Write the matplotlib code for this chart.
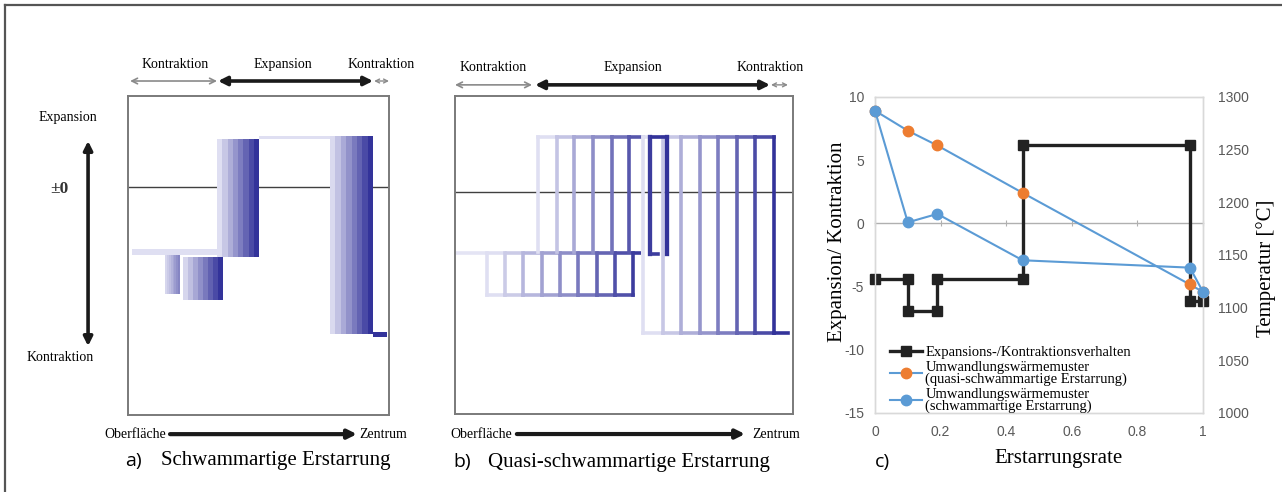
import numpy as np
import matplotlib
matplotlib.use('Agg')
import matplotlib.pyplot as plt
from matplotlib.colors import LinearSegmentedColormap
from matplotlib.lines import Line2D

plt.rcParams['axes.unicode_minus'] = False

SERIF = 'Liberation Serif'
SANS = 'Open Sans'

# ---- panel a: blocks (x0, x1, y_bottom, y_top), x = surface(0) .. centre(100)
a_blocks = [(1.5, 34.1, -7.45, -6.8),
            (14.2, 19.9, -11.7, -7.45),
            (21.1, 36.4, -12.4, -7.66),
            (34.1, 50.2, -7.66, 5.28),
            (50.2, 77.4, 5.28, 5.6),
            (77.4, 93.9, -16.1, 5.6),
            (93.9, 99.2, -16.4, -15.9)]
a_phases = [('Kontraktion', 0.8, 34.1), ('Expansion', 34.5, 93.9), ('Kontraktion', 94.3, 100)]

# ---- panel b: rectangle edges
b_con_x = [9.5, 14.8, 20.1, 25.7, 31.1, 36.4, 42.0, 47.3, 52.7]
b_con_y = (-10.65, -6.3)
b_band_end = 55.0
b_exp_x = [24.6, 30.2, 35.2, 40.8, 46.4, 51.5]
b_exp_y = (-6.2, 5.75)
b_dark_x = [57.7, 62.7]
b_dark_y = (-6.4, 5.75)
b_big_x = [55.6, 61.5, 66.9, 72.5, 77.8, 83.4, 88.8, 94.4]
b_big_y = (-14.6, 5.75)
b_big_end = 98.5
b_phases = [('Kontraktion', 0.0, 22.8), ('Expansion', 23.7, 93.2), ('Kontraktion', 93.5, 98.5)]

# ---- panel c
rate_dil = [0, 0.1, 0.1, 0.19, 0.19, 0.45, 0.45, 0.96, 0.96, 1.0]
dilation = [-4.4, -4.4, -6.9, -6.9, -4.4, -4.4, 6.2, 6.2, -6.1, -6.1]
rate_temp = [0, 0.1, 0.19, 0.45, 0.96, 1.0]
temp_quasi = [1287, 1268, 1254, 1209, 1122, 1115]
temp_sponge = [1287, 1181, 1189, 1145, 1138, 1115]
xticks_c = [0, 0.2, 0.4, 0.6, 0.8, 1.0]
xtick_labels_c = ['0', '0.2', '0.4', '0.6', '0.8', '1']
yticks_left = [-15, -10, -5, 0, 5, 10]
yticks_right = [1000, 1050, 1100, 1150, 1200, 1250, 1300]
legend_labels = ['Expansions-/Kontraktionsverhalten',
                 'Umwandlungswärmemuster\n(quasi-schwammartige Erstarrung)',
                 'Umwandlungswärmemuster\n(schwammartige Erstarrung)']

navy = LinearSegmentedColormap.from_list('navy', ['#e8e8f6', '#33339a'])
a_shade = [(0.05, 0.05), (0.1, 0.55), (0.1, 1.0), (0.05, 1.0), (0.05, 0.05), (0.08, 1.0), (1.0, 1.0)]

fig = plt.figure(figsize=(12.82, 4.92), dpi=100)

# outer frame
fig.add_artist(Line2D([5 / 1282, 1], [1 - 5 / 492, 1 - 5 / 492], transform=fig.transFigure,
                      color='#555555', lw=1.6))
fig.add_artist(Line2D([5 / 1282, 5 / 1282], [0, 1 - 5 / 492], transform=fig.transFigure,
                      color='#555555', lw=1.6))


def box_axes(rect, ylim):
    ax = fig.add_axes(rect)
    ax.set_xlim(0, 100)
    ax.set_ylim(*ylim)
    ax.set_xticks([])
    ax.set_yticks([])
    for s in ax.spines.values():
        s.set_color('#7a7a7a')
        s.set_linewidth(1.4)
    ax.axhline(0, color='#404040', lw=1, zorder=1)
    return ax


def phase_arrows(ax, phases, label_x, y_arrow, y_text):
    tr = ax.get_xaxis_transform()
    styles = [dict(arrowstyle='<->', color='#8a8a8a', lw=1.2, mutation_scale=10),
              dict(arrowstyle='<|-|>', color='#1a1a1a', lw=2.6, mutation_scale=13),
              dict(arrowstyle='<->', color='#8a8a8a', lw=1.0, mutation_scale=7)]
    for (name, x0, x1), lx, st in zip(phases, label_x, styles):
        ax.annotate('', xy=(x1, y_arrow), xytext=(x0, y_arrow), xycoords=tr, textcoords=tr,
                    annotation_clip=False,
                    arrowprops=dict(shrinkA=0, shrinkB=0, **st))
        ax.text(lx, y_text, name, transform=tr, ha='center', va='center',
                fontfamily=SERIF, fontsize=10)


def bottom_arrow(ax, x_left_text, x0, x1, x_right_text, y):
    ax.text(x_left_text, y, 'Oberfläche', transform=ax.transAxes, ha='right', va='center',
            fontfamily=SERIF, fontsize=10)
    ax.annotate('', xy=(x1, y), xytext=(x0, y), xycoords='axes fraction', annotation_clip=False,
                arrowprops=dict(arrowstyle='-|>', color='#1a1a1a', lw=3, mutation_scale=13,
                                shrinkA=0, shrinkB=0))
    ax.text(x_right_text, y, 'Zentrum', transform=ax.transAxes, ha='left', va='center',
            fontfamily=SERIF, fontsize=10)


# ================= panel a
axa = box_axes([128 / 1282, 77 / 492, 261 / 1282, 319 / 492], (-25, 10))
for (x0, x1, y0, y1), (s0, s1) in zip(a_blocks, a_shade):
    n = 8
    edges = np.linspace(x0, x1, n + 1)
    axa.bar(edges[:-1], y1 - y0, width=np.diff(edges), bottom=y0, align='edge',
            color=navy(np.linspace(s0, s1, n)), lw=0, zorder=2)

phase_arrows(axa, a_phases, [18, 59.4, 97], 1.047, 1.10)
axa.annotate('', xy=(-0.153, 0.859), xytext=(-0.153, 0.216), xycoords='axes fraction',
             annotation_clip=False,
             arrowprops=dict(arrowstyle='<|-|>', color='#1a1a1a', lw=2.6, mutation_scale=13,
                             shrinkA=0, shrinkB=0))
axa.text(-0.23, 0.934, 'Expansion', transform=axa.transAxes, ha='center', va='center',
         fontfamily=SERIF, fontsize=10)
axa.text(-0.264, 0.708, '±0', transform=axa.transAxes, ha='center', va='center',
         fontfamily=SERIF, fontsize=12.5, fontweight='bold', color='#333333')
axa.text(-0.26, 0.179, 'Kontraktion', transform=axa.transAxes, ha='center', va='center',
         fontfamily=SERIF, fontsize=10)
bottom_arrow(axa, 0.146, 0.161, 0.877, 0.885, -0.06)
axa.text(-0.011, -0.144, 'a)', transform=axa.transAxes, ha='left', va='center',
         fontfamily=SANS, fontsize=14)
axa.text(0.126, -0.144, 'Schwammartige Erstarrung', transform=axa.transAxes, ha='left',
         va='center', fontfamily=SERIF, fontsize=15)

# ================= panel b
axb = box_axes([455 / 1282, 78 / 492, 338 / 1282, 318 / 492], (-23, 10))
LW = 2.6


def seg_colors(n, s0, s1):
    return navy(np.linspace(s0, s1, n))


# contraction rectangles
cc = seg_colors(len(b_con_x), 0.05, 0.95)
axb.hlines(b_con_y[1], 0, b_con_x[0], colors=[navy(0.02)], lw=LW, zorder=2)
axb.hlines([b_con_y[1]] * len(b_con_x), b_con_x, b_con_x[1:] + [b_band_end], colors=cc,
           lw=LW, zorder=2)
axb.hlines([b_con_y[0]] * (len(b_con_x) - 1), b_con_x[:-1], b_con_x[1:], colors=cc[:-1],
           lw=LW, zorder=2, capstyle='projecting')
axb.vlines(b_con_x, b_con_y[0], b_con_y[1], colors=cc, lw=LW, zorder=3, capstyle='projecting')

# expansion rectangles
ce = seg_colors(len(b_exp_x), 0.05, 0.8)
axb.hlines([b_exp_y[1]] * len(b_exp_x), b_exp_x, b_exp_x[1:] + [b_big_x[0]], colors=ce,
           lw=LW, zorder=2, capstyle='projecting')
axb.vlines(b_exp_x, b_exp_y[0], b_exp_y[1], colors=ce, lw=LW, zorder=3, capstyle='projecting')

# big rectangles
cb = seg_colors(len(b_big_x), 0.05, 1.0)
axb.hlines([b_big_y[1]] * (len(b_big_x) - 1), b_big_x[:-1], b_big_x[1:], colors=cb[:-1],
           lw=LW, zorder=2, capstyle='projecting')
axb.hlines([b_big_y[0]] * len(b_big_x), b_big_x, b_big_x[1:] + [b_big_end], colors=cb,
           lw=LW, zorder=2, capstyle='projecting')
axb.vlines(b_big_x, b_big_y[0], b_big_y[1], colors=cb, lw=LW, zorder=3, capstyle='projecting')

# dark rectangle
axb.vlines(b_dark_x, b_dark_y[0], b_dark_y[1], colors=[navy(0.95), navy(1.0)], lw=LW + 0.5,
           zorder=4, capstyle='projecting')
axb.hlines(b_dark_y[0], b_dark_x[0], b_dark_x[0] + 0.5 * (b_dark_x[1] - b_dark_x[0]),
           colors=[navy(0.95)], lw=LW, zorder=4, capstyle='projecting')
axb.hlines(b_dark_y[1], b_dark_x[0], b_dark_x[1], colors=[navy(1.0)], lw=LW, zorder=4)

phase_arrows(axb, b_phases, [11.2, 52.7, 93.2], 1.035, 1.091)
bottom_arrow(axb, 0.169, 0.183, 0.858, 0.879, -0.063)
axb.text(-0.006, -0.151, 'b)', transform=axb.transAxes, ha='left', va='center',
         fontfamily=SANS, fontsize=14)
axb.text(0.098, -0.151, 'Quasi-schwammartige Erstarrung', transform=axb.transAxes, ha='left',
         va='center', fontfamily=SERIF, fontsize=15)

# ================= panel c
axc = fig.add_axes([875 / 1282, 79 / 492, 328 / 1282, 316 / 492])
l_dil, = axc.plot(rate_dil, dilation, color='#222222', lw=2.4, marker='s', ms=7,
                  mfc='#222222', mec='#222222', clip_on=False, zorder=3)
axc.set_xlim(0, 1)
axc.set_ylim(-15, 10)
axc.set_xticks(xticks_c)
axc.set_xticklabels(xtick_labels_c)
axc.set_yticks(yticks_left)
axc.tick_params(axis='x', length=0, pad=9, labelsize=10, labelcolor='#595959')
axc.tick_params(axis='y', length=0, pad=8, labelsize=10, labelcolor='#595959')
for t in axc.get_xticklabels() + axc.get_yticklabels():
    t.set_fontfamily('Liberation Sans')

sec = axc.secondary_xaxis(0, transform=axc.transData)
sec.set_xticks(xticks_c)
sec.tick_params(direction='inout', length=5, color='#b0b0b0', labelbottom=False)
sec.spines['bottom'].set_color('#b0b0b0')
sec.spines['bottom'].set_linewidth(1)

axt = axc.twinx()
l_quasi, = axt.plot(rate_temp, temp_quasi, color='#5B9BD5', lw=1.5, marker='o', ms=7.5,
                    mfc='#ED7D31', mec='#ED7D31', clip_on=False, zorder=3)
l_sponge, = axt.plot(rate_temp, temp_sponge, color='#5B9BD5', lw=1.5, marker='o', ms=7.5,
                     mfc='#5B9BD5', mec='#5B9BD5', clip_on=False, zorder=4)
axt.set_ylim(1000, 1300)
axt.set_yticks(yticks_right)
axt.tick_params(axis='y', length=0, pad=11, labelsize=10, labelcolor='#595959')
for t in axt.get_yticklabels():
    t.set_fontfamily('Liberation Sans')

for a in (axc, axt):
    for s in a.spines.values():
        s.set_color('#d9d9d9')
        s.set_linewidth(1)

axc.set_ylabel('Expansion/ Kontraktion', fontfamily=SERIF, fontsize=15)
axc.yaxis.set_label_coords(-0.085, 0.541)
axt.set_ylabel('Temperatur [°C]', fontfamily=SERIF, fontsize=15)
axt.yaxis.set_label_coords(1.162, 0.459)
axc.set_xlabel('Erstarrungsrate', fontfamily=SERIF, fontsize=15)
axc.xaxis.set_label_coords(0.558, -0.115)
axc.text(0.0, -0.155, 'c)', transform=axc.transAxes, ha='left', va='center',
         fontfamily=SANS, fontsize=14)

leg = axt.legend([l_dil, l_quasi, l_sponge], legend_labels, loc='lower left',
                 bbox_to_anchor=(0.045, 0.0), frameon=False, borderpad=0, borderaxespad=0,
                 handlelength=2.2, handletextpad=0.25, labelspacing=0.15,
                 prop=dict(family=SERIF, size=10.5))
for t in leg.get_texts():
    t.set_linespacing(0.85)

fig.savefig('out.png', dpi=100)
